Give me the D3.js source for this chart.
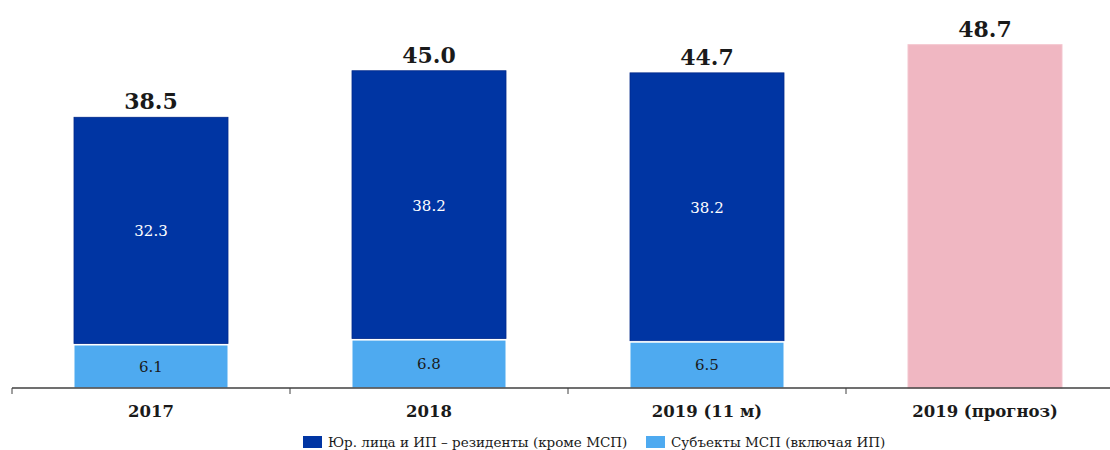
<!DOCTYPE html>
<html><head><meta charset="utf-8">
<script src="https://cdn.jsdelivr.net/npm/d3@7"></script>
<style>body{margin:0;background:#fff}svg{display:block}</style>
</head><body><div id="c"></div>
<script>
const categories = ["2017", "2018", "2019 (11 м)", "2019 (прогноз)"];
const residents = [32.3, 38.2, 38.2, null];
const smes = [6.1, 6.8, 6.5, null];
const forecast = [null, null, null, 48.7];
const totals = [38.5, 45.0, 44.7, 48.7];
const seriesNames = ["Юр. лица и ИП – резиденты (кроме МСП)", "Субъекты МСП (включая ИП)"];

const W = 1110, H = 450;
const FONT = "'DejaVu Serif', 'Liberation Serif', serif";
const cDark = "#0035a3", cLight = "#4eaaf0", cPink = "#f0b7c2";
const svg = d3.select("#c").append("svg").attr("width", W).attr("height", H);

const x = d3.scaleBand().domain(categories).range([12, 1124]).paddingInner(0.446).paddingOuter(0.223);
const y = d3.scaleLinear().domain([0, 55]).range([388, 388 - 55 * 7.05]);

const g = svg.append("g");
categories.forEach((c, i) => {
  const bx = x(c), bw = x.bandwidth();
  if (smes[i] != null) {
    g.append("rect").attr("x", bx).attr("width", bw)
      .attr("y", y(smes[i])).attr("height", y(0) - y(smes[i]))
      .attr("fill", cLight).attr("stroke", "#ffffff").attr("stroke-width", 1);
    g.append("rect").attr("x", bx).attr("width", bw)
      .attr("y", y(smes[i] + residents[i])).attr("height", y(smes[i]) - y(smes[i] + residents[i]) - 1.5)
      .attr("fill", cDark).attr("stroke", "#00288a").attr("stroke-width", 0.8);
    g.append("text").attr("x", bx + bw / 2).attr("y", (y(0) + y(smes[i])) / 2)
      .attr("dy", "0.35em").attr("text-anchor", "middle")
      .style("font-family", FONT).style("font-size", "15px").attr("fill", "#1a1a1a")
      .text(smes[i].toFixed(1));
    g.append("text").attr("x", bx + bw / 2).attr("y", (y(smes[i]) + y(smes[i] + residents[i])) / 2)
      .attr("dy", "0.35em").attr("text-anchor", "middle")
      .style("font-family", FONT).style("font-size", "15px").attr("fill", "#ffffff")
      .text(residents[i].toFixed(1));
  }
  if (forecast[i] != null) {
    g.append("rect").attr("x", bx).attr("width", bw)
      .attr("y", y(forecast[i])).attr("height", y(0) - y(forecast[i]))
      .attr("fill", cPink).attr("stroke", "#f3c6cf").attr("stroke-width", 1);
  }
  g.append("text").attr("x", bx + bw / 2).attr("y", y(totals[i]) - 8)
    .attr("text-anchor", "middle")
    .style("font-family", FONT).style("font-size", "22px").style("font-weight", "bold").attr("fill", "#1a1a1a")
    .text(totals[i].toFixed(1));
});

// axis
const ax = svg.append("g").attr("transform", "translate(0,388)");
ax.append("line").attr("x1", 12).attr("x2", 1110).attr("stroke", "#404040").attr("stroke-width", 1.5);
const tickXs = categories.map(c => x(c) - x.step() * x.paddingInner() / 2);
tickXs.push(x(categories[3]) + x.bandwidth() + x.step() * x.paddingInner() / 2);
tickXs.forEach(t => ax.append("line").attr("x1", t).attr("x2", t).attr("y1", 0).attr("y2", 6).attr("stroke", "#404040").attr("stroke-width", 1));
categories.forEach(c => ax.append("text").attr("x", x(c) + x.bandwidth() / 2).attr("y", 23)
  .attr("dy", "0.35em").attr("text-anchor", "middle")
  .style("font-family", FONT).style("font-size", "16.5px").style("font-weight", "bold").attr("fill", "#1a1a1a").text(c));

// legend
const leg = svg.append("g").attr("transform", "translate(0,442)");
[[303, cDark, seriesNames[0]], [646, cLight, seriesNames[1]]].forEach(([lx, col, name]) => {
  leg.append("rect").attr("x", lx).attr("y", -6).attr("width", 19).attr("height", 12).attr("fill", col);
  leg.append("text").attr("x", lx + 25).attr("y", 0).attr("dy", "0.35em")
    .style("font-family", FONT).style("font-size", "13.5px").attr("fill", "#1a1a1a").text(name);
});
</script></body></html>
